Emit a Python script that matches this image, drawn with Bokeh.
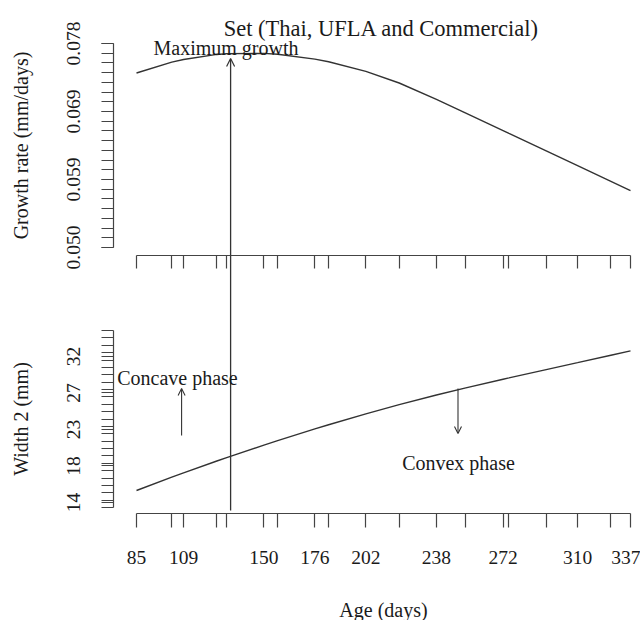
import numpy as np
from bokeh.plotting import figure
from bokeh.models import Range1d, LinearAxis, FixedTicker, Arrow, OpenHead, Label
from bokeh.embed import file_html
from bokeh.resources import INLINE

# ---------------- data ----------------
title_text = "Set (Thai, UFLA and Commercial)"
x_label = "Age (days)"
growth_label = "Growth rate (mm/days)"
width_label = "Width 2 (mm)"

ages = [85, 103, 109, 126, 131, 150, 157, 176, 183, 202, 219, 238, 253, 272, 275, 294, 310, 327, 337]
growth_rate = [0.07395, 0.07545, 0.07580, 0.07650, 0.07661, 0.07664, 0.07652, 0.07586, 0.07549, 0.07417,
               0.07258, 0.07034, 0.06845, 0.06605, 0.06566, 0.06326, 0.06124, 0.05909, 0.05782]
width2 = [15.48, 17.12, 17.65, 19.12, 19.54, 21.08, 21.63, 23.07, 23.59, 24.92,
          26.06, 27.25, 28.14, 29.20, 29.36, 30.38, 31.24, 32.16, 32.70]

age_tick_labels = {85: "85", 109: "109", 150: "150", 176: "176", 202: "202",
                   238: "238", 272: "272", 310: "310", 337: "337"}
growth_ticks = [0.050, 0.05933, 0.06867, 0.078]
growth_tick_labels = ["0.050", "0.059", "0.069", "0.078"]
growth_axis_span = (0.050, 0.078)
growth_rug_count = 22
width_ticks = [14, 18.5, 23, 27.5, 32]
width_tick_labels = ["14", "18", "23", "27", "32"]
width_axis_span = (13.38, 35.2)
width_rug_count = 25

max_growth_age = 133
max_growth_arrow = (0.0489, 0.07594)   # growth units
max_growth_line = (13.01, 44.45)       # width units
concave_age, concave_arrow = 108, (22.26, 28.06)
convex_age, convex_arrow = 249, (28.06, 22.51)

# ---------------- style ----------------
FONT = "Liberation Serif"
TXT = "#1a1a1a"
LC = "#333333"
AX = "#444444"

X_RANGE = (15.62, 342.1)
W_RANGE = (-0.548, 75.89)
G_RANGE = (-0.001193, 0.083902)
Y_AXIS_X = 73.26
TOP_XAXIS_Y = 44.45
BOT_XAXIS_Y = 12.644

p = figure(width=640, height=620, output_backend="svg", toolbar_location=None,
           x_range=Range1d(*X_RANGE), y_range=Range1d(*W_RANGE),
           x_axis_location=None, y_axis_location=None,
           min_border_left=0, min_border_right=0, min_border_top=0, min_border_bottom=0)
p.extra_y_ranges = {"growth": Range1d(*G_RANGE)}
p.outline_line_color = None
p.grid.visible = False
p.background_fill_color = "white"
p.border_fill_color = "white"


def style_axis(ax, out):
    ax.axis_line_color = AX
    ax.axis_line_width = 1.2
    ax.major_tick_line_color = AX
    ax.minor_tick_line_color = AX
    ax.major_tick_line_width = 1.2
    ax.minor_tick_line_width = 1.2
    ax.major_tick_in = 0
    ax.major_tick_out = out
    ax.minor_tick_in = 0
    ax.minor_tick_out = out
    ax.major_label_text_font = FONT
    ax.major_label_text_font_size = "19.5px"
    ax.major_label_text_color = TXT
    ax.axis_label_text_font = FONT
    ax.axis_label_text_font_style = "normal"
    ax.axis_label_text_font_size = "20px"
    ax.axis_label_text_color = TXT


# top panel x axis (rug, no labels)
xa_top = LinearAxis(fixed_location=TOP_XAXIS_Y, bounds=(ages[0], ages[-1]),
                    ticker=FixedTicker(ticks=ages, minor_ticks=[]),
                    major_label_overrides={a: "" for a in ages})
style_axis(xa_top, 13)
p.add_layout(xa_top, "below")

# bottom panel x axis
xa_bot = LinearAxis(fixed_location=BOT_XAXIS_Y, bounds=(ages[0], ages[-1]),
                    ticker=FixedTicker(ticks=ages, minor_ticks=[]),
                    major_label_overrides={a: age_tick_labels.get(a, "") for a in ages},
                    axis_label=x_label, major_label_standoff=24, axis_label_standoff=31)
style_axis(xa_bot, 14)
p.add_layout(xa_bot, "below")

# top panel y axis
ya_top = LinearAxis(y_range_name="growth", fixed_location=Y_AXIS_X, bounds=growth_axis_span,
                    ticker=FixedTicker(ticks=growth_ticks,
                                       minor_ticks=list(np.linspace(*growth_axis_span, growth_rug_count))),
                    major_label_overrides=dict(zip(growth_ticks, growth_tick_labels)),
                    major_label_orientation="vertical", axis_label=growth_label,
                    major_label_standoff=21, axis_label_standoff=33)
style_axis(ya_top, 12)
p.add_layout(ya_top, "left")

# bottom panel y axis
ya_bot = LinearAxis(fixed_location=Y_AXIS_X, bounds=width_axis_span,
                    ticker=FixedTicker(ticks=width_ticks,
                                       minor_ticks=list(np.linspace(*width_axis_span, width_rug_count))),
                    major_label_overrides=dict(zip(width_ticks, width_tick_labels)),
                    major_label_orientation="vertical", axis_label=width_label,
                    major_label_standoff=21, axis_label_standoff=33)
style_axis(ya_bot, 12)
p.add_layout(ya_bot, "left")

# curves
p.line(ages, growth_rate, y_range_name="growth", line_color=LC, line_width=1.4)
p.line(ages, width2, line_color=LC, line_width=1.4)

# maximum growth vertical line + arrow
p.segment(x0=[max_growth_age], y0=[max_growth_line[0]], x1=[max_growth_age], y1=[max_growth_line[1]],
          line_color=LC, line_width=1.3)
p.add_layout(Arrow(end=OpenHead(size=8, line_color=LC, line_width=1.2),
                   x_start=max_growth_age, y_start=max_growth_arrow[0],
                   x_end=max_growth_age, y_end=max_growth_arrow[1],
                   y_range_name="growth", line_color=LC, line_width=1.3))

# phase arrows
for age, (y0, y1) in [(concave_age, concave_arrow), (convex_age, convex_arrow)]:
    p.add_layout(Arrow(end=OpenHead(size=7, line_color=LC, line_width=1.1),
                       x_start=age, y_start=y0, x_end=age, y_end=y1,
                       line_color=LC, line_width=1.1))


# annotations
def add_label(x, y, text, size="20px", align="left", **kw):
    p.add_layout(Label(x=x, y=y, text=text, text_font=FONT, text_font_size=size,
                       text_color=TXT, text_align=align, text_baseline="alphabetic", **kw))


add_label(209.98, 0.08006, title_text, size="22.5px", align="center", y_range_name="growth")
add_label(93.66, 0.07745, "Maximum growth", y_range_name="growth")
add_label(75.14, 29.29, "Concave phase")
add_label(220.5, 18.81, "Convex phase")

open("out.html", "w").write(file_html(p, INLINE))
